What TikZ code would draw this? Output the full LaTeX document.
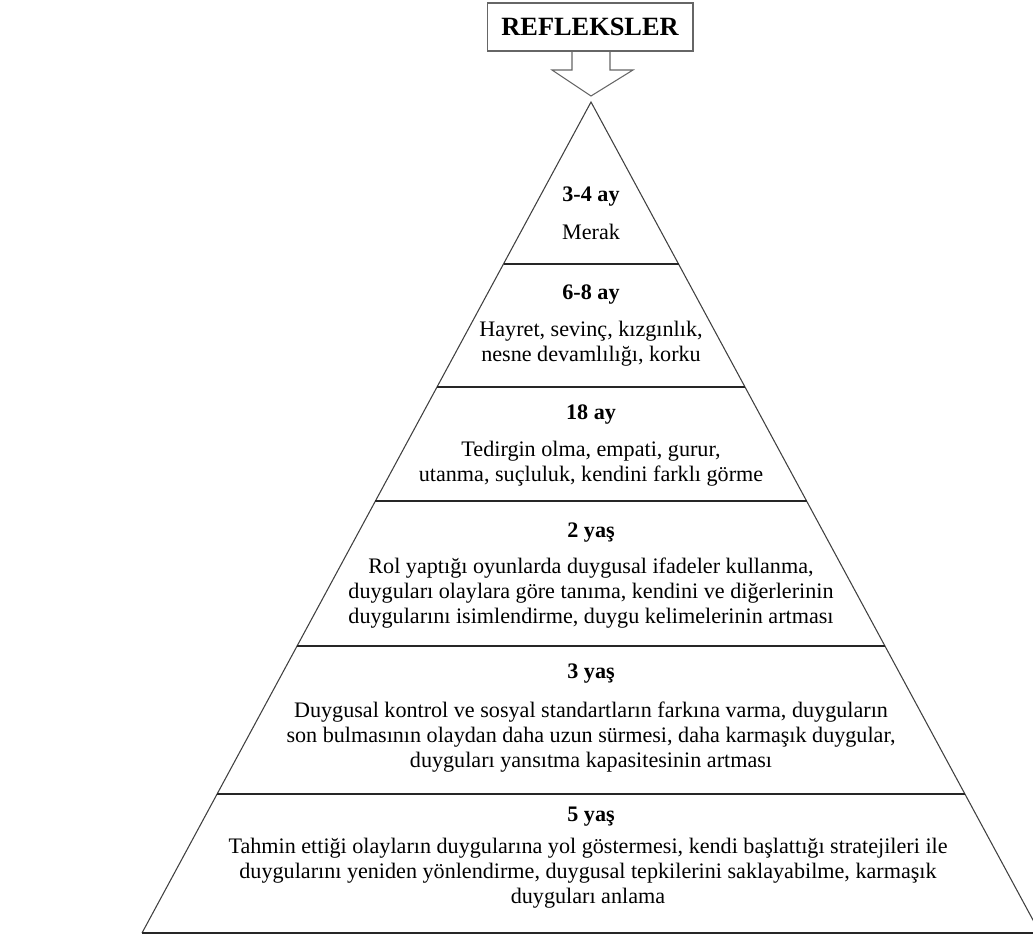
\documentclass[tikz,border=0pt]{standalone}
\usepackage{fontspec}
\setmainfont{Liberation Serif}
\begin{document}
\begin{tikzpicture}[x=0.02cm,y=-0.02cm,
  edge/.style={draw=black!75, line width=0.6pt},
  divider/.style={draw=black!85, line width=0.9pt},
  blockarrow/.style={draw=black!60, line width=0.6pt, fill=white},
  titlebox/.style={draw=black!60, line width=0.6pt, fill=white, minimum width=4.12cm, minimum height=0.96cm, inner sep=0pt, font=\fontsize{15}{18}\selectfont\bfseries},
  head/.style={font=\fontsize{12.6}{14.2}\selectfont\bfseries, inner sep=0pt},
  body/.style={font=\fontsize{12.6}{14.2}\selectfont, align=center, inner sep=0pt}]
\useasboundingbox (0,0) rectangle (1033,945);
\fill[white] (0,0) rectangle (1033,945);

% block arrow under the title box
\draw[blockarrow] (572,51) -- (572,70) -- (552,70) -- (591,96) -- (633,70) -- (610,70) -- (610,51);
\node[titlebox] (refl) at (590,27) {REFLEKSLER};

% pyramid
\coordinate (A) at (591,102);
\coordinate (BL) at (142,933);
\coordinate (BR) at (1040,933);
\draw[edge] (BL) -- (A) -- (BR);
\draw[divider] (BL) -- (BR);
\draw[divider] (503.5,264) -- (678.5,264);
\draw[divider] (437.0,387) -- (745.0,387);
\draw[divider] (375.4,501) -- (806.6,501);
\draw[divider] (297.1,646) -- (884.9,646);
\draw[divider] (217.1,794) -- (964.9,794);

% band 1
\node[head] (h1) at (591,197) {3-4 ay};
\node[body] (b1) at (591,232) {Merak};
% band 2
\node[head] (h2) at (591,295) {6-8 ay};
\node[body] (b2) at (591,343.5) {Hayret, sevinç, kızgınlık,\\ nesne devamlılığı, korku};
% band 3
\node[head] (h3) at (591,415) {18 ay};
\node[body] (b3) at (591,463.5) {Tedirgin olma, empati, gurur,\\ utanma, suçluluk, kendini farklı görme};
% band 4
\node[head] (h4) at (591,533) {2 yaş};
\node[body] (b4) at (591,593) {Rol yaptığı oyunlarda duygusal ifadeler kullanma,\\ duyguları olaylara göre tanıma, kendini ve diğerlerinin\\ duygularını isimlendirme, duygu kelimelerinin artması};
% band 5
\node[head] (h5) at (591,674) {3 yaş};
\node[body] (b5) at (591,737) {Duygusal kontrol ve sosyal standartların farkına varma, duyguların\\ son bulmasının olaydan daha uzun sürmesi, daha karmaşık duygular,\\ duyguları yansıtma kapasitesinin artması};
% band 6
\node[head] (h6) at (591,817) {5 yaş};
\node[body] (b6) at (588,873) {Tahmin ettiği olayların duygularına yol göstermesi, kendi başlattığı stratejileri ile\\ duygularını yeniden yönlendirme, duygusal tepkilerini saklayabilme, karmaşık\\ duyguları anlama};
\end{tikzpicture}
\end{document}
